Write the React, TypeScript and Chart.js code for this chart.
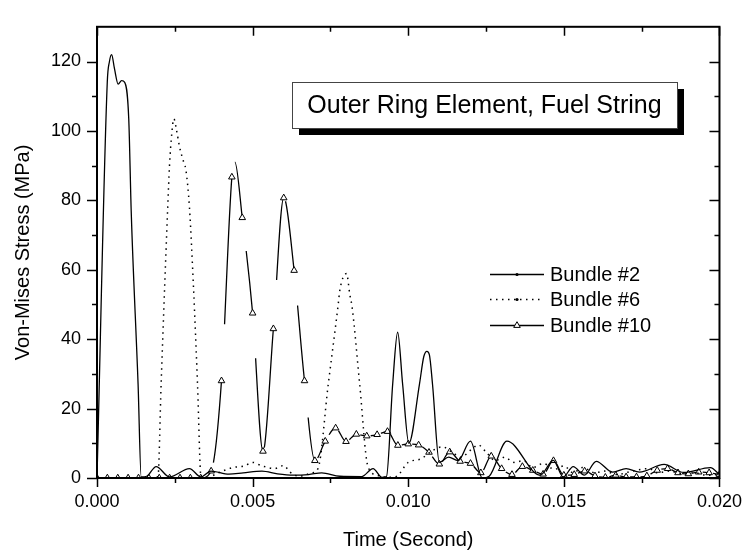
import React, { useEffect, useRef } from "react";
import { Chart, registerables } from "chart.js";

Chart.register(...registerables);

const FONT = '"Liberation Sans", Arial, Helvetica, sans-serif';

// ---- Data (time in seconds, stress in MPa) ----
const b2T = [0, 0.00033, 0.0004, 0.00047, 0.00056, 0.00068, 0.00079, 0.00089, 0.00102, 0.0011, 0.00132, 0.00142, 0.0016, 0.0019, 0.00233, 0.00297, 0.00334, 0.00366, 0.00424, 0.0047, 0.0053, 0.0058, 0.0063, 0.0068, 0.00722, 0.0078, 0.0085, 0.00887, 0.00915, 0.0093, 0.0095, 0.00966, 0.00982, 0.01002, 0.01036, 0.0105, 0.0106, 0.01068, 0.01078, 0.011, 0.0113, 0.0116, 0.012, 0.01238, 0.0126, 0.01317, 0.01424, 0.01466, 0.01498, 0.0153, 0.01566, 0.01604, 0.01657, 0.017, 0.01743, 0.01822, 0.01885, 0.01971, 0.02];
const b2V = [0, 114, 120, 122, 118, 113.5, 114.5, 114, 103.5, 76.6, 27, 0.3, 0.5, 3.3, 0.3, 2.7, 0.3, 2.0, 1.1, 1.5, 2.0, 1.2, 0.8, 1.0, 1.5, 0.5, 0.4, 2.7, 0.2, 0.4, 27, 42, 27, 10, 27, 35, 36.5, 35.5, 27, 4.5, 6, 5, 10.6, 0, 0.5, 10.6, 0.8, 5.1, 0.3, 3.3, 0.8, 4.8, 1.7, 2.7, 1.7, 3.9, 1.6, 3.0, 1.0];

const b6T = [0, 0.0018, 0.00196, 0.00206, 0.00227, 0.00233, 0.0024, 0.00247, 0.00256, 0.00265, 0.00275, 0.00286, 0.00297, 0.0031, 0.00323, 0.00334, 0.0035, 0.0039, 0.00435, 0.00475, 0.00499, 0.0053, 0.0057, 0.006, 0.0062, 0.0065, 0.0069, 0.0071, 0.00743, 0.00775, 0.0078, 0.00802, 0.00812, 0.0082, 0.00844, 0.0087, 0.009, 0.0093, 0.0096, 0.01, 0.0104, 0.0108, 0.0111, 0.0114, 0.0117, 0.012, 0.01225, 0.0125, 0.0128, 0.0131, 0.0134, 0.0137, 0.014, 0.01434, 0.0147, 0.015, 0.0153, 0.0156, 0.016, 0.0163, 0.0167, 0.0172, 0.01774, 0.018, 0.0184, 0.0188, 0.0192, 0.0196, 0.02];
const b6V = [0, 0, 0.5, 27, 77.5, 90, 99, 103.5, 100, 95.5, 92, 88.5, 78, 55, 27, 0.5, 0, 1.5, 3, 3.5, 4.5, 3.5, 2.7, 3.6, 1.7, 0.5, 1.5, 2.7, 27, 50, 54, 58.9, 53, 49, 27, 3.5, 0.8, 0.2, 0.4, 4.5, 5.5, 8, 9, 7.5, 6, 8, 9.5, 7.5, 5, 6, 4.5, 5, 3, 4.2, 2.5, 3.5, 1.5, 3, 1.5, 2, 1, 2, 2.7, 1.5, 2, 1.2, 1.5, 0.8, 1];

const b10T = [0, 0.000333, 0.000667, 0.001, 0.001333, 0.001667, 0.002, 0.002333, 0.002667, 0.003, 0.003333, 0.003667, 0.004, 0.004333, 0.00443, 0.004667, 0.005, 0.005333, 0.005667, 0.006, 0.006333, 0.006667, 0.007, 0.007333, 0.007667, 0.008, 0.008333, 0.008667, 0.009, 0.009333, 0.009667, 0.01, 0.010333, 0.010667, 0.011, 0.011333, 0.011667, 0.012, 0.012333, 0.012667, 0.013, 0.013333, 0.013667, 0.014, 0.014333, 0.014667, 0.015, 0.015333, 0.015667, 0.016, 0.016333, 0.016667, 0.017, 0.017333, 0.017667, 0.018, 0.018333, 0.018667, 0.019, 0.019333, 0.019667, 0.02];
const b10V = [0, 0, 0, 0, 0, 0, 0, 0, 0, 0, 0, 2, 28, 86.7, 91, 75, 47.5, 7.7, 43, 80.7, 59.8, 28, 5, 10.6, 14.4, 10.5, 12.6, 12.1, 12.5, 13.4, 9.4, 9.8, 9.5, 7.4, 4, 7.5, 4.8, 4.2, 1.5, 6.3, 2.7, 1, 3.3, 2.2, 1.1, 5, 0.8, 1, 2, 0.6, 0.2, 0.8, 0.3, 0.3, 0.6, 2.2, 2.7, 1.5, 1.2, 1.7, 1.5, 1.0];

const seriesNames = ["Bundle #2", "Bundle #6", "Bundle #10"];
const xTickValues = [0, 0.005, 0.01, 0.015, 0.02];
const yTickValues = [0, 20, 40, 60, 80, 100, 120];
const chartTitle = "Outer Ring Element, Fuel String";
const xAxisTitle = "Time (Second)";
const yAxisTitle = "Von-Mises Stress (MPa)";

const pts = (t: number[], v: number[]) => t.map((x, i) => ({ x, y: v[i] }));
// symbols of the Bundle #10 curve sit on the 1/3 ms sampling grid
const onGrid = (t: number) => Math.abs(t * 3000 - Math.round(t * 3000)) < 0.05;

const DOT_DASH = [1.5, 4.5];
const SYMBOL_GAP_X = 4; // horizontal gap (px) left after each symbol, like the original plot

const symbolGapDash = (c: any) => {
  const t = b10T[c.p0DataIndex];
  if (t === undefined || !onGrid(t)) return [];
  const p0 = c.p0, p1 = c.p1;
  let tx = (p0.cp2x ?? p1.x) - p0.x;
  let ty = (p0.cp2y ?? p1.y) - p0.y;
  if (!isFinite(tx) || !isFinite(ty) || Math.abs(tx) < 1e-6) {
    tx = p1.x - p0.x;
    ty = p1.y - p0.y;
  }
  const k = Math.hypot(tx, ty) / Math.max(Math.abs(tx), 1e-6);
  const gap = SYMBOL_GAP_X * Math.min(k, 80);
  return [0, gap, 100000];
};

const decorPlugin = {
  id: "decor",
  afterDraw(chart: any) {
    const { ctx, chartArea: a, scales } = chart;
    const xs = scales.x;
    const ys = scales.y;
    ctx.save();
    ctx.strokeStyle = "#000";
    ctx.fillStyle = "#000";

    // tick marks (major + minor), bottom/left outward, top/right inward
    ctx.lineWidth = 1.5;
    ctx.beginPath();
    for (let i = 0; i < xTickValues.length; i++) {
      const v = xTickValues[i];
      const px = Math.round(xs.getPixelForValue(v)) + 0.5;
      ctx.moveTo(px, a.bottom); ctx.lineTo(px, a.bottom + 9);
      ctx.moveTo(px, a.top); ctx.lineTo(px, a.top + 9);
      if (i < xTickValues.length - 1) {
        const m = (v + xTickValues[i + 1]) / 2;
        const pm = Math.round(xs.getPixelForValue(m)) + 0.5;
        ctx.moveTo(pm, a.bottom); ctx.lineTo(pm, a.bottom + 5);
        ctx.moveTo(pm, a.top); ctx.lineTo(pm, a.top + 5);
      }
    }
    for (let i = 0; i < yTickValues.length; i++) {
      const v = yTickValues[i];
      const py = Math.round(ys.getPixelForValue(v)) + 0.5;
      ctx.moveTo(a.left, py); ctx.lineTo(a.left - 10, py);
      ctx.moveTo(a.right, py); ctx.lineTo(a.right - 10, py);
      const m = v + 10;
      if (m < ys.max) {
        const pm = Math.round(ys.getPixelForValue(m)) + 0.5;
        ctx.moveTo(a.left, pm); ctx.lineTo(a.left - 5, pm);
        ctx.moveTo(a.right, pm); ctx.lineTo(a.right - 5, pm);
      }
    }
    ctx.stroke();

    // frame
    ctx.lineWidth = 2;
    ctx.strokeRect(a.left, a.top, a.right - a.left, a.bottom - a.top);

    // title box with drop shadow
    const bx = 292, by = 82, bw = 385, bh = 46;
    ctx.fillStyle = "#000";
    ctx.fillRect(bx + 7, by + 7, bw, bh);
    ctx.fillStyle = "#fff";
    ctx.fillRect(bx, by, bw, bh);
    ctx.lineWidth = 1;
    ctx.strokeStyle = "#444";
    ctx.strokeRect(bx + 0.5, by + 0.5, bw, bh);
    ctx.fillStyle = "#000";
    ctx.font = `25px ${FONT}`;
    ctx.textAlign = "center";
    ctx.textBaseline = "middle";
    ctx.fillText(chartTitle, bx + bw / 2, by + bh / 2 + 1);

    // legend
    const lx0 = 490, lx1 = 544, tx = 550;
    const ly = [274, 299, 325];
    ctx.strokeStyle = "#000";
    ctx.font = `20px ${FONT}`;
    ctx.textAlign = "left";
    seriesNames.forEach((name, i) => {
      const y = ly[i] + 0.5;
      ctx.lineWidth = i === 1 ? 1.5 : 1.3;
      ctx.setLineDash(i === 1 ? DOT_DASH : []);
      ctx.beginPath();
      ctx.moveTo(lx0, y); ctx.lineTo(lx1, y);
      ctx.stroke();
      ctx.setLineDash([]);
      const mx = (lx0 + lx1) / 2;
      if (i === 2) {
        const r = 3.8;
        ctx.beginPath();
        ctx.moveTo(mx, y - r);
        ctx.lineTo(mx + r * 0.866, y + r * 0.5);
        ctx.lineTo(mx - r * 0.866, y + r * 0.5);
        ctx.closePath();
        ctx.fillStyle = "#fff";
        ctx.fill();
        ctx.lineWidth = 1;
        ctx.stroke();
      } else {
        ctx.fillStyle = "#000";
        ctx.beginPath();
        ctx.arc(mx, y, 1.6, 0, Math.PI * 2);
        ctx.fill();
      }
      ctx.fillStyle = "#000";
      ctx.fillText(name, tx, ly[i] + 1);
    });
    ctx.restore();
  },
};

export default function App() {
  const ref = useRef<HTMLCanvasElement | null>(null);
  useEffect(() => {
    if (!ref.current) return;
    const chart = new Chart(ref.current, {
      type: "line",
      data: {
        datasets: [
          {
            label: seriesNames[0],
            data: pts(b2T, b2V),
            borderColor: "#000",
            borderWidth: 1.3,
            pointRadius: 0,
            cubicInterpolationMode: "monotone",
            fill: false,
          },
          {
            label: seriesNames[1],
            data: pts(b6T, b6V),
            borderColor: "#000",
            borderWidth: 1.5,
            borderDash: DOT_DASH,
            pointRadius: 0,
            cubicInterpolationMode: "monotone",
            fill: false,
          },
          {
            label: seriesNames[2],
            data: pts(b10T, b10V),
            borderColor: "#000",
            borderWidth: 1.3,
            cubicInterpolationMode: "monotone",
            fill: false,
            clip: 0,
            segment: {
              borderDash: symbolGapDash,
              borderDashOffset: (c: any) => (c.p0DataIndex % 2 ? 0.001 : 0),
            },
            pointStyle: "triangle",
            pointRadius: (c: any) => (c.raw && onGrid(c.raw.x) ? 3.8 : 0),
            pointBackgroundColor: "#fff",
            pointBorderColor: "#000",
            pointBorderWidth: 1,
          },
        ],
      } as any,
      options: {
        responsive: false,
        animation: false,
        devicePixelRatio: 1,
        events: [],
        layout: { padding: { left: 0, top: 6, right: 31, bottom: 0 } },
        plugins: { legend: { display: false }, tooltip: { enabled: false }, title: { display: false } },
        scales: {
          x: {
            type: "linear",
            min: 0,
            max: 0.02,
            afterFit: (s: any) => { s.height = 82; },
            afterBuildTicks: (s: any) => { s.ticks = xTickValues.map((value) => ({ value })); },
            ticks: {
              callback: (v: any) => Number(v).toFixed(3),
              font: { family: FONT, size: 18 },
              color: "#000",
              padding: 13,
              maxRotation: 0,
              autoSkip: false,
              includeBounds: false,
            },
            grid: { display: false, drawTicks: false },
            border: { display: false },
            title: { display: true, text: xAxisTitle, font: { family: FONT, size: 20 }, color: "#000", padding: { top: 0, bottom: 8 } },
          },
          y: {
            type: "linear",
            min: 0,
            max: 130,
            afterFit: (s: any) => { s.width = 97; },
            afterBuildTicks: (s: any) => { s.ticks = yTickValues.map((value) => ({ value })); },
            ticks: {
              font: { family: FONT, size: 18 },
              color: "#000",
              padding: 16,
              autoSkip: false,
              includeBounds: false,
            },
            grid: { display: false, drawTicks: false },
            border: { display: false },
            title: { display: true, text: yAxisTitle, font: { family: FONT, size: 20 }, color: "#000", padding: { top: 11, bottom: 0 } },
          },
        },
      } as any,
      plugins: [decorPlugin],
    });
    return () => chart.destroy();
  }, []);
  return (
    <div style={{ position: "fixed", left: 0, top: 0, width: 755, height: 560, background: "#fff" }}>
      <canvas ref={ref} width={755} height={560} style={{ display: "block" }} />
    </div>
  );
}
